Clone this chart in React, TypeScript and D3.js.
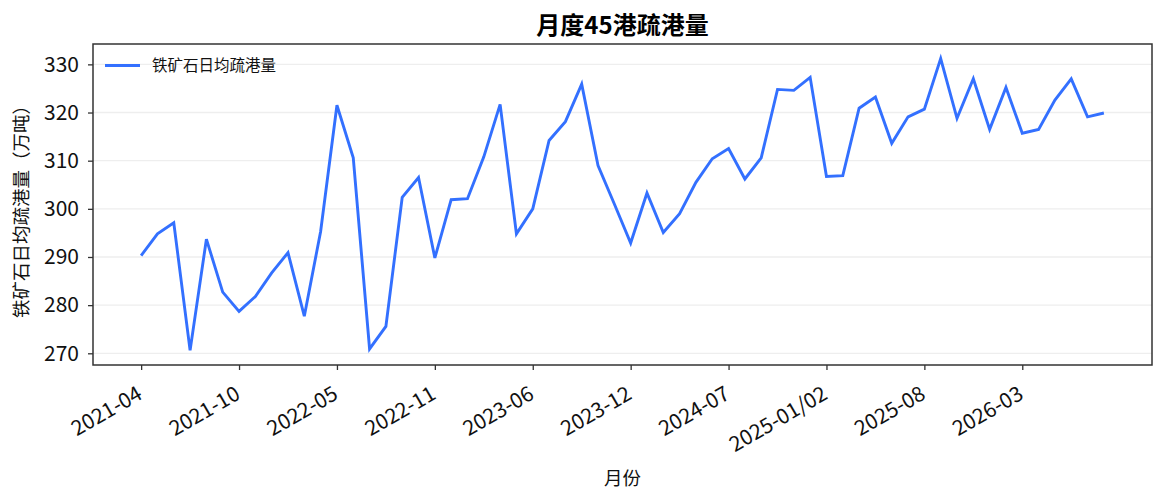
import * as d3 from 'd3';
import { useEffect, useRef } from 'react';

// months on the x axis (Jan/Feb are reported together)
const months = [
  '2021-04', '2021-05', '2021-06', '2021-07', '2021-08', '2021-09',
  '2021-10', '2021-11', '2021-12', '2022-01/02', '2022-03', '2022-04',
  '2022-05', '2022-06', '2022-07', '2022-08', '2022-09', '2022-10',
  '2022-11', '2022-12', '2023-01/02', '2023-03', '2023-04', '2023-05',
  '2023-06', '2023-07', '2023-08', '2023-09', '2023-10', '2023-11',
  '2023-12', '2024-01/02', '2024-03', '2024-04', '2024-05', '2024-06',
  '2024-07', '2024-08', '2024-09', '2024-10', '2024-11', '2024-12',
  '2025-01/02', '2025-03', '2025-04', '2025-05', '2025-06', '2025-07',
  '2025-08', '2025-09', '2025-10', '2025-11', '2025-12', '2026-01/02',
  '2026-03', '2026-04', '2026-05', '2026-06', '2026-07', '2026-08',
];

// 铁矿石日均疏港量 (万吨)
const dailyOutflow = [
  290.3, 294.8, 297.1, 270.6, 293.7, 282.7, 278.7, 281.8, 286.7, 290.9,
  277.7, 295.3, 321.5, 310.6, 270.9, 275.6, 302.4, 306.5, 289.8, 301.9,
  302.1, 310.8, 321.7, 294.8, 300.0, 314.2, 318.1, 325.9, 309.0, 301.0,
  292.9, 303.3, 295.1, 299.0, 305.5, 310.4, 312.5, 306.2, 310.6, 324.8,
  324.6, 327.3, 306.7, 306.9, 320.9, 323.2, 313.6, 319.1, 320.7, 331.2,
  318.8, 327.0, 316.5, 325.2, 315.7, 316.5, 322.6, 327.0, 319.1, 319.9,
];

const yTicks = [270, 280, 290, 300, 310, 320, 330];

export default function App() {
  const ref = useRef<SVGSVGElement | null>(null);

  useEffect(() => {
    if (!ref.current) return;
    const W = 1166;
    const H = 503;
    const margin = { top: 44, right: 14, bottom: 138, left: 93 };
    const width = W - margin.left - margin.right;
    const height = H - margin.top - margin.bottom;
    const font = '"Noto Sans CJK SC", "Noto Sans", sans-serif';
    const blue = '#3370ff';

    const svg = d3.select(ref.current).attr('width', W).attr('height', H);
    svg.selectAll('*').remove();
    svg.append('rect').attr('width', W).attr('height', H).attr('fill', '#fff');

    const g = svg.append('g').attr('transform', `translate(${margin.left},${margin.top})`);

    const x = d3.scalePoint<string>().domain(months).range([0, width]).padding(2.95);

    const lo = d3.min(dailyOutflow)!;
    const hi = d3.max(dailyOutflow)!;
    const pad = (hi - lo) * 0.05;
    const y = d3.scaleLinear().domain([lo - pad, hi + pad]).range([height, 0]);

    // grid
    g.append('g')
      .selectAll('line')
      .data(yTicks)
      .join('line')
      .attr('x1', 0)
      .attr('x2', width)
      .attr('y1', (d) => y(d))
      .attr('y2', (d) => y(d))
      .attr('stroke', '#eeeeee')
      .attr('stroke-width', 1.3);

    // line
    const line = d3
      .line<number>()
      .x((_, i) => x(months[i])!)
      .y((d) => y(d));
    g.append('path')
      .datum(dailyOutflow)
      .attr('d', line)
      .attr('fill', 'none')
      .attr('stroke', blue)
      .attr('stroke-width', 2.9)
      .attr('stroke-linejoin', 'miter');

    // x axis
    const xAxis = g
      .append('g')
      .attr('transform', `translate(0,${height})`)
      .call(
        d3
          .axisBottom(x)
          .tickValues(months.filter((_, i) => i % 6 === 0))
          .tickSize(5)
          .tickSizeOuter(0)
      );
    xAxis.select('.domain').remove();
    xAxis.selectAll('.tick line').attr('stroke', '#333').attr('stroke-width', 1.3);
    xAxis
      .selectAll('.tick text')
      .attr('font-family', font)
      .attr('font-size', 21)
      .attr('fill', '#111')
      .attr('text-anchor', 'end')
      .attr('y', 0)
      .attr('dy', 0)
      .attr('transform', 'translate(2,33) rotate(-30)');

    // y axis
    const yAxis = g.append('g').call(d3.axisLeft(y).tickValues(yTicks).tickSize(5).tickPadding(9));
    yAxis.select('.domain').remove();
    yAxis.selectAll('.tick line').attr('stroke', '#333').attr('stroke-width', 1.3);
    yAxis
      .selectAll('.tick text')
      .attr('font-family', font)
      .attr('font-size', 21)
      .attr('fill', '#111');

    // frame
    g.append('rect')
      .attr('width', width)
      .attr('height', height)
      .attr('fill', 'none')
      .attr('stroke', '#333')
      .attr('stroke-width', 1.5);

    // legend
    g.append('line')
      .attr('x1', 12)
      .attr('x2', 47)
      .attr('y1', 21.5)
      .attr('y2', 21.5)
      .attr('stroke', blue)
      .attr('stroke-width', 2.9);
    g.append('text')
      .attr('x', 59)
      .attr('y', 21.5)
      .attr('dy', '0.36em')
      .attr('font-family', font)
      .attr('font-size', 15.5)
      .attr('fill', '#111')
      .text('铁矿石日均疏港量');

    // title and labels
    svg
      .append('text')
      .attr('x', margin.left + width / 2)
      .attr('y', 34)
      .attr('text-anchor', 'middle')
      .attr('font-family', font)
      .attr('font-size', 24)
      .attr('font-weight', 'bold')
      .attr('fill', '#000')
      .text('月度45港疏港量');

    svg
      .append('text')
      .attr('x', margin.left + width / 2)
      .attr('y', 485)
      .attr('text-anchor', 'middle')
      .attr('font-family', font)
      .attr('font-size', 18.5)
      .attr('fill', '#111')
      .text('月份');

    svg
      .append('text')
      .attr('transform', `translate(28,207) rotate(-90)`)
      .attr('text-anchor', 'middle')
      .attr('font-family', font)
      .attr('font-size', 18.5)
      .attr('fill', '#111')
      .text('铁矿石日均疏港量（万吨）');
  }, []);

  return <svg ref={ref} style={{ position: 'absolute', left: 0, top: 0, display: 'block' }} />;
}
